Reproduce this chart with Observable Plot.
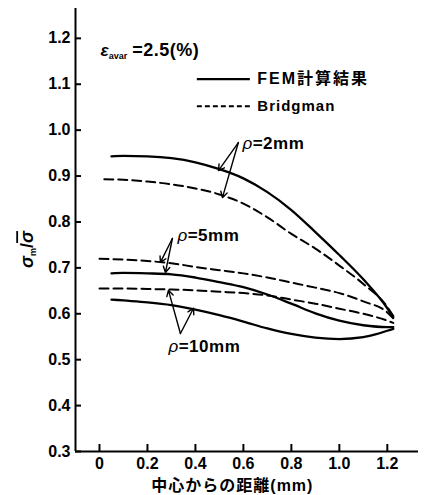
<!DOCTYPE html>
<html><head><meta charset="utf-8">
<script src="https://cdn.jsdelivr.net/npm/d3@7"></script>
<script src="https://cdn.jsdelivr.net/npm/@observablehq/plot@0.6"></script>
<style>body{margin:0;background:#fff}</style>
</head><body><div id="chart"></div>
<script>
// ---- data ----
const xTicks = [0, 0.2, 0.4, 0.6, 0.8, 1.0, 1.2];
const xTickLabels = ["0", "0.2", "0.4", "0.6", "0.8", "1.0", "1.2"];
const yTicks = [0.3, 0.4, 0.5, 0.6, 0.7, 0.8, 0.9, 1.0, 1.1, 1.2];
const yTickLabels = ["0.3", "0.4", "0.5", "0.6", "0.7", "0.8", "0.9", "1.0", "1.1", "1.2"];

const fem2X = [0.05, 0.1, 0.2, 0.3, 0.4, 0.5, 0.6, 0.7, 0.8, 0.9, 1.0, 1.1, 1.2, 1.225];
const fem2Y = [0.943, 0.944, 0.943, 0.939, 0.930, 0.915, 0.895, 0.865, 0.826, 0.778, 0.728, 0.675, 0.612, 0.592];
const bri2X = [0.02, 0.1, 0.2, 0.3, 0.4, 0.5, 0.6, 0.7, 0.8, 0.9, 1.0, 1.1, 1.2, 1.225];
const bri2Y = [0.893, 0.892, 0.888, 0.882, 0.873, 0.860, 0.840, 0.810, 0.774, 0.742, 0.705, 0.665, 0.615, 0.595];
const fem5X = [0.05, 0.1, 0.2, 0.3, 0.4, 0.5, 0.6, 0.7, 0.8, 0.9, 1.0, 1.1, 1.2, 1.225];
const fem5Y = [0.688, 0.689, 0.688, 0.686, 0.679, 0.669, 0.658, 0.642, 0.622, 0.601, 0.585, 0.575, 0.571, 0.571];
const bri5X = [0.0, 0.1, 0.2, 0.3, 0.4, 0.5, 0.6, 0.7, 0.8, 0.9, 1.0, 1.1, 1.2, 1.225];
const bri5Y = [0.720, 0.718, 0.715, 0.710, 0.702, 0.695, 0.688, 0.679, 0.668, 0.657, 0.645, 0.627, 0.603, 0.590];
const fem10X = [0.05, 0.1, 0.2, 0.3, 0.4, 0.5, 0.6, 0.7, 0.8, 0.9, 1.0, 1.1, 1.15, 1.2, 1.225];
const fem10Y = [0.631, 0.629, 0.625, 0.619, 0.609, 0.597, 0.583, 0.568, 0.556, 0.548, 0.545, 0.549, 0.555, 0.563, 0.567];
const bri10X = [0.0, 0.1, 0.2, 0.3, 0.4, 0.5, 0.6, 0.7, 0.8, 0.9, 1.0, 1.1, 1.2, 1.225];
const bri10Y = [0.655, 0.655, 0.654, 0.653, 0.651, 0.648, 0.645, 0.640, 0.631, 0.622, 0.611, 0.600, 0.585, 0.580];

const seriesNames = ["fem2", "bri2", "fem5", "bri5", "fem10", "bri10"];
const seriesType = ["FEM", "Bridgman", "FEM", "Bridgman", "FEM", "Bridgman"];

// annotations
const legendLabels = ["FEM計算結果", "Bridgman"];
const legendX1 = [0.408, 0.408], legendX2 = [0.629, 0.629], legendY = [1.111, 1.052], legendTextX = [0.658, 0.658];
const rhoLabels = ["ρ=2mm", "ρ=5mm", "ρ=10mm"];
const rhoLabelX = [0.596, 0.325, 0.2875], rhoLabelY = [0.971, 0.771, 0.529];
const arrowFromX = [0.579, 0.579, 0.304, 0.304, 0.3375, 0.3375];
const arrowFromY = [0.973, 0.973, 0.764, 0.764, 0.557, 0.557];
const arrowToX = [0.496, 0.5125, 0.254, 0.275, 0.2875, 0.392];
const arrowToY = [0.912, 0.853, 0.712, 0.690, 0.651, 0.612];
const strainLabel = "εavar=2.5(%)";
const yLabel = "σm/σ";
const xLabel = "中心からの距離(mm)";

// ---- build tables ----
const allX = [fem2X, bri2X, fem5X, bri5X, fem10X, bri10X];
const allY = [fem2Y, bri2Y, fem5Y, bri5Y, fem10Y, bri10Y];
const rows = [];
seriesNames.forEach((s, k) => allX[k].forEach((x, i) => rows.push({series: s, type: seriesType[k], x, y: allY[k][i]})));
const femRows = rows.filter(d => d.type === "FEM");
const briRows = rows.filter(d => d.type === "Bridgman");
const legendRows = legendLabels.map((t, i) => ({t, x1: legendX1[i], x2: legendX2[i], y: legendY[i], tx: legendTextX[i]}));
const rhoRows = rhoLabels.map((t, i) => ({t, x: rhoLabelX[i], y: rhoLabelY[i]}));
const arrowRows = arrowFromX.map((x, i) => ({x1: x, y1: arrowFromY[i], x2: arrowToX[i], y2: arrowToY[i]}));

const FONT = "'Liberation Sans', 'Noto Sans CJK JP', sans-serif";

const chart = Plot.plot({
  width: 426, height: 495,
  marginLeft: 75, marginRight: 8, marginTop: 8, marginBottom: 44,
  style: {fontFamily: FONT, fontWeight: "bold", fontSize: "16px", background: "#fff", color: "#000", overflow: "visible"},
  x: {domain: [-0.1, 1.33]},
  y: {domain: [0.3, 1.265]},
  marks: [
    Plot.axisX(xTicks, {tickSize: 0, tickPadding: 6, tickFormat: d => xTickLabels[xTicks.indexOf(d)], label: null, fontSize: 16, fontWeight: "bold"}),
    Plot.axisY(yTicks, {tickSize: 0, tickPadding: 5, tickFormat: d => yTickLabels[yTicks.findIndex(v => Math.abs(v - d) < 1e-9)], label: null, fontSize: 16, fontWeight: "bold"}),
    Plot.ruleX([-0.1], {strokeWidth: 2}),
    Plot.ruleY([0.3], {strokeWidth: 2}),
    Plot.ruleX(xTicks, {y1: 0.3, y2: 0.3, insetTop: -7, strokeWidth: 2}),
    Plot.ruleY(yTicks, {x1: -0.1, x2: -0.1, insetRight: -6, strokeWidth: 2}),
    Plot.line(femRows, {x: "x", y: "y", z: "series", curve: "monotone-x", stroke: "#000", strokeWidth: 2.3}),
    Plot.line(briRows, {x: "x", y: "y", z: "series", curve: "monotone-x", stroke: "#000", strokeWidth: 2, strokeDasharray: "9,5"}),
    Plot.ruleY(legendRows.slice(0, 1), {x1: "x1", x2: "x2", y: "y", strokeWidth: 2.3}),
    Plot.ruleY(legendRows.slice(1), {x1: "x1", x2: "x2", y: "y", strokeWidth: 2, strokeDasharray: "5,3"}),
    Plot.text(legendRows, {x: "tx", y: "y", text: "t", textAnchor: "start", fontSize: 16, fontWeight: "bold"}),
    Plot.arrow(arrowRows, {x1: "x1", y1: "y1", x2: "x2", y2: "y2", headLength: 7, strokeWidth: 1.4}),
    Plot.text(rhoRows, {x: "x", y: "y", text: "t", textAnchor: "start", fontSize: 17, fontWeight: "bold"}),
    Plot.text([strainLabel], {x: -0.1, y: 1.174, dx: 25, text: d => d, textAnchor: "start", fontSize: 17, fontWeight: "bold"}),
    Plot.text([yLabel], {x: -0.1, y: 0.74, dx: -48, text: d => d, rotate: -90, fontSize: 18, fontWeight: "bold"}),
    Plot.text([xLabel], {x: 0.554, frameAnchor: "bottom", dy: 39, text: d => d, fontSize: 16, fontWeight: "bold"})
  ]
});

// rich text touches
const sel = d3.select(chart);
sel.selectAll("text").each(function () {
  const t = this.textContent;
  const el = d3.select(this);
  if (t === strainLabel) {
    el.text("");
    el.append("tspan").attr("font-style", "italic").attr("font-size", 17).text("ε");
    el.append("tspan").attr("font-size", 9).attr("dy", 3).text("avar");
    el.append("tspan").attr("dy", -3).attr("dx", 5).attr("font-size", 18).attr("letter-spacing", 0.5).text("=2.5(%)");
  } else if (t === yLabel) {
    el.text("");
    el.append("tspan").attr("font-style", "italic").text("σ");
    el.append("tspan").attr("font-size", 9).attr("dy", 3).text("m");
    el.append("tspan").attr("dy", -3).text("/");
    el.append("tspan").attr("font-style", "italic").style("text-decoration", "overline").text("σ");
  } else if (t === legendLabels[0]) {
    el.attr("letter-spacing", 2);
  } else if (t === legendLabels[1]) {
    el.attr("letter-spacing", 1).attr("font-size", 15);
  } else if (t === xLabel) {
    el.attr("letter-spacing", 1);
  } else if (rhoLabels.includes(t)) {
    el.text("");
    el.attr("letter-spacing", 0.5);
    el.append("tspan").attr("font-style", "italic").attr("font-weight", "normal").text("ρ");
    el.append("tspan").text(t.slice(1));
  }
});

document.getElementById("chart").appendChild(chart);
</script>
</body></html>
